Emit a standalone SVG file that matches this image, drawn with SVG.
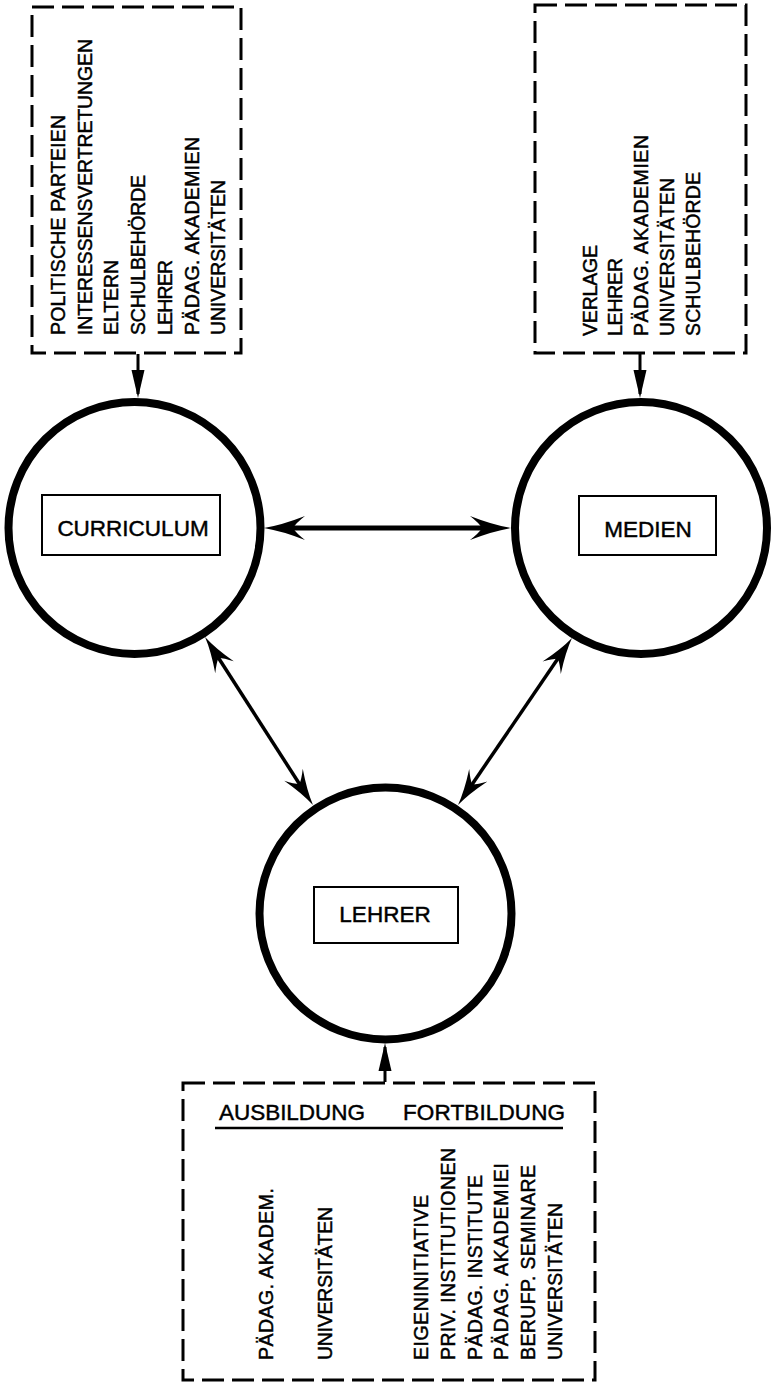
<svg xmlns="http://www.w3.org/2000/svg" width="771" height="1384" viewBox="0 0 771 1384">
<style>
.box{fill:none;stroke:#000;stroke-width:3;stroke-dasharray:22 8}
.circ{fill:#fff;stroke:#000;stroke-width:8}
.lbl{fill:none;stroke:#000;stroke-width:2}
text{font-family:"Liberation Sans",Arial,Helvetica,sans-serif;fill:#000;stroke:#000;stroke-width:0.45}
.v{font-size:19.5px}
.h{font-size:22.5px}
.conn{stroke:#000;fill:none}
</style>
<defs>
<marker id="barb" markerUnits="userSpaceOnUse" viewBox="-44 -14 46 28" markerWidth="46" markerHeight="28" refX="-18" refY="0" orient="auto-start-reverse" overflow="visible">
<path d="M0,0 Q-18,-3 -41,-12 Q-32,-5 -29,0 Q-32,5 -41,12 Q-18,3 0,0 Z" fill="#000"/>
</marker>
<marker id="barb2" markerUnits="userSpaceOnUse" viewBox="-38 -13 40 26" markerWidth="40" markerHeight="26" refX="-14" refY="0" orient="auto-start-reverse" overflow="visible">
<path d="M0,0 Q-15,-2.5 -36,-11 Q-28,-4.5 -25,0 Q-28,4.5 -36,11 Q-15,2.5 0,0 Z" fill="#000"/>
</marker>
<marker id="tri" markerUnits="userSpaceOnUse" viewBox="-32 -8 34 16" markerWidth="34" markerHeight="16" refX="-4" refY="0" orient="auto" overflow="visible">
<path d="M0,0 L-28,-6.5 L-28,6.5 Z" fill="#000"/>
</marker>
</defs>

<g id="box-curriculum-sources">
<rect class="box" x="32" y="7" width="209" height="346"/>
<g transform="rotate(-90)">
<text class="v" x="-335" y="65" textLength="220" lengthAdjust="spacing">POLITISCHE PARTEIEN</text>
<text class="v" x="-335" y="91.7" textLength="296" lengthAdjust="spacing">INTERESSENSVERTRETUNGEN</text>
<text class="v" x="-335" y="118.4" textLength="75" lengthAdjust="spacing">ELTERN</text>
<text class="v" x="-335" y="145.1" textLength="160" lengthAdjust="spacing">SCHULBEHÖRDE</text>
<text class="v" x="-335" y="171.8" textLength="75" lengthAdjust="spacing">LEHRER</text>
<text class="v" x="-335" y="198.5" textLength="198" lengthAdjust="spacing">PÄDAG. AKADEMIEN</text>
<text class="v" x="-335" y="225.2" textLength="155" lengthAdjust="spacing">UNIVERSITÄTEN</text>
</g>
</g>

<g id="box-medien-sources">
<rect class="box" x="535" y="5" width="211" height="348"/>
<g transform="rotate(-90)">
<text class="v" x="-336" y="596.5" textLength="91" lengthAdjust="spacing">VERLAGE</text>
<text class="v" x="-336" y="622.3" textLength="78" lengthAdjust="spacing">LEHRER</text>
<text class="v" x="-336" y="648" textLength="201" lengthAdjust="spacing">PÄDAG. AKADEMIEN</text>
<text class="v" x="-336" y="673.8" textLength="158" lengthAdjust="spacing">UNIVERSITÄTEN</text>
<text class="v" x="-336" y="699.6" textLength="164" lengthAdjust="spacing">SCHULBEHÖRDE</text>
</g>
</g>

<g id="box-lehrer-sources">
<rect class="box" x="183" y="1083" width="412" height="297"/>
<text class="h" x="219" y="1120" textLength="146" lengthAdjust="spacing">AUSBILDUNG</text>
<text class="h" x="403" y="1120" textLength="162" lengthAdjust="spacing">FORTBILDUNG</text>
<line x1="215" y1="1128" x2="563" y2="1128" stroke="#000" stroke-width="2.5"/>
<g transform="rotate(-90)">
<text class="v" x="-1360" y="273.3" textLength="172" lengthAdjust="spacing">PÄDAG. AKADEM.</text>
<text class="v" x="-1360" y="331.7" textLength="153" lengthAdjust="spacing">UNIVERSITÄTEN</text>
<text class="v" x="-1360" y="428.3" textLength="165" lengthAdjust="spacing">EIGENINITIATIVE</text>
<text class="v" x="-1360" y="455" textLength="212" lengthAdjust="spacing">PRIV. INSTITUTIONEN</text>
<text class="v" x="-1360" y="481.7" textLength="185" lengthAdjust="spacing">PÄDAG. INSTITUTE</text>
<text class="v" x="-1360" y="508.3" textLength="197" lengthAdjust="spacing">PÄDAG. AKADEMIEI</text>
<text class="v" x="-1360" y="535" textLength="195" lengthAdjust="spacing">BERUFP. SEMINARE</text>
<text class="v" x="-1360" y="561.7" textLength="157" lengthAdjust="spacing">UNIVERSITÄTEN</text>
</g>
</g>

<g id="node-curriculum">
<circle class="circ" cx="134.5" cy="528" r="126"/>
<rect class="lbl" x="42" y="495" width="178" height="60"/>
<text class="h" x="133" y="536" text-anchor="middle">CURRICULUM</text>
</g>

<g id="node-medien">
<circle class="circ" cx="641" cy="528" r="126"/>
<rect class="lbl" x="579" y="496" width="137" height="59"/>
<text class="h" x="648" y="537" text-anchor="middle">MEDIEN</text>
</g>

<g id="node-lehrer">
<circle class="circ" cx="385.5" cy="913.5" r="126"/>
<rect class="lbl" x="314" y="887" width="144" height="56"/>
<text class="h" x="385" y="922" text-anchor="middle">LEHRER</text>
</g>

<g id="connectors">
<line class="conn" x1="282" y1="528" x2="493" y2="528" stroke-width="5" marker-start="url(#barb)" marker-end="url(#barb)"/>
<line class="conn" x1="212.6" y1="648.8" x2="305.4" y2="793.2" stroke-width="3.5" marker-start="url(#barb2)" marker-end="url(#barb2)"/>
<line class="conn" x1="564.1" y1="649.6" x2="465.9" y2="793.4" stroke-width="3.5" marker-start="url(#barb2)" marker-end="url(#barb2)"/>
<line class="conn" x1="138" y1="354" x2="138" y2="394" stroke-width="3" marker-end="url(#tri)"/>
<line class="conn" x1="640" y1="354" x2="640" y2="394" stroke-width="3" marker-end="url(#tri)"/>
<line class="conn" x1="385" y1="1082" x2="385" y2="1047" stroke-width="3" marker-end="url(#tri)"/>
</g>
</svg>
